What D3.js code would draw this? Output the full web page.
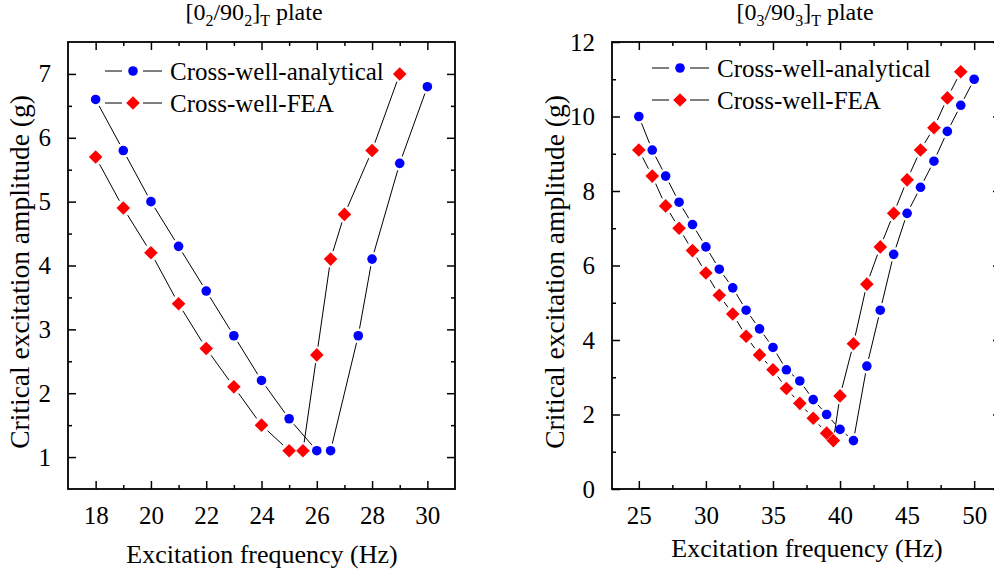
<!DOCTYPE html>
<html>
<head>
<meta charset="utf-8">
<script src="https://cdn.jsdelivr.net/npm/d3@7/dist/d3.min.js"></script>
<style>
  html, body { margin: 0; padding: 0; background: #fff; }
</style>
</head>
<body>
<svg id="chart" width="994" height="573"></svg>
<script>
// [0_2/90_2]_T plate
const freqA1 = [18, 19, 20, 21, 22, 23, 24, 25, 26, 26.5, 27.5, 28, 29, 30];
const ampA1  = [6.6, 5.8, 5.0, 4.3, 3.6, 2.9, 2.2, 1.6, 1.1, 1.1, 2.9, 4.1, 5.6, 6.8];
const freqF1 = [18, 19, 20, 21, 22, 23, 24, 25, 25.5, 26, 26.5, 27, 28, 29];
const ampF1  = [5.7, 4.9, 4.2, 3.4, 2.7, 2.1, 1.5, 1.1, 1.1, 2.6, 4.1, 4.8, 5.8, 7.0];

// [0_3/90_3]_T plate
const freqA2 = [25, 26, 27, 28, 29, 30, 31, 32, 33, 34, 35, 36, 37, 38, 39, 40, 41,
                42, 43, 44, 45, 46, 47, 48, 49, 50];
const ampA2  = [10.0, 9.1, 8.4, 7.7, 7.1, 6.5, 5.9, 5.4, 4.8, 4.3, 3.8, 3.2, 2.9, 2.4, 2.0, 1.6, 1.3,
                3.3, 4.8, 6.3, 7.4, 8.1, 8.8, 9.6, 10.3, 11.0];
const freqF2 = [25, 26, 27, 28, 29, 30, 31, 32, 33, 34, 35, 36, 37, 38, 39, 39.5,
                40, 41, 42, 43, 44, 45, 46, 47, 48, 49];
const ampF2  = [9.1, 8.4, 7.6, 7.0, 6.4, 5.8, 5.2, 4.7, 4.1, 3.6, 3.2, 2.7, 2.3, 1.9, 1.5, 1.3,
                2.5, 3.9, 5.5, 6.5, 7.4, 8.3, 9.1, 9.7, 10.5, 11.2];

// Tick values
const xTicks1 = [18, 20, 22, 24, 26, 28, 30];
const xMinor1 = [19, 21, 23, 25, 27, 29];
const yTicks1 = [1, 2, 3, 4, 5, 6, 7];
const yMinor1 = [1.5, 2.5, 3.5, 4.5, 5.5, 6.5];
const xTicks2 = [25, 30, 35, 40, 45, 50];
const xMinor2 = [27.5, 32.5, 37.5, 42.5, 47.5];
const yTicks2 = [0, 2, 4, 6, 8, 10, 12];
const yMinor2 = [1, 3, 5, 7, 9, 11];

const seriesNames = ["Cross-well-analytical", "Cross-well-FEA"];
const titleSub1 = "2", titleSub2 = "3";

const svg = d3.select("#chart");
const FONT = "'Liberation Serif'";
const BLUE = "#0000ff", RED = "#ff0000";
const FS = 25;
const R_CIRCLE = 4.8, R_DIAMOND = 6.8;

function marker(g, kind, x, y) {
  if (kind === "circle") {
    g.append("circle").attr("cx", x).attr("cy", y).attr("r", R_CIRCLE).attr("fill", BLUE);
  } else {
    const r = R_DIAMOND;
    g.append("path")
      .attr("d", `M${x},${y - r}L${x + r},${y}L${x},${y + r}L${x - r},${y}Z`)
      .attr("fill", RED);
  }
}

// Line through points, with a small gap left around each symbol
function gappedLine(g, pts, gap) {
  for (let i = 0; i < pts.length - 1; i++) {
    const [x0, y0] = pts[i], [x1, y1] = pts[i + 1];
    const dx = x1 - x0, dy = y1 - y0, len = Math.hypot(dx, dy);
    if (len <= 2 * gap) continue;
    const ux = dx / len, uy = dy / len;
    g.append("line")
      .attr("x1", x0 + ux * gap).attr("y1", y0 + uy * gap)
      .attr("x2", x1 - ux * gap).attr("y2", y1 - uy * gap)
      .attr("stroke", "#000").attr("stroke-width", 1);
  }
}

function label(g, size) {
  return g.append("text").style("font-family", FONT).attr("font-size", size).attr("fill", "#000");
}

function drawPanel(cfg) {
  const { left, right, top, bottom } = cfg.box;
  const x = d3.scaleLinear().domain(cfg.xDomain).range([left, right]);
  const y = d3.scaleLinear().domain(cfg.yDomain).range([bottom, top]);
  const g = svg.append("g");

  // Axes on all four sides, ticks pointing inward
  const MAJ = 8, MIN = 4;
  const axB = d3.axisBottom(x).tickValues(cfg.xTicks).tickSize(-MAJ).tickPadding(MAJ + 9).tickFormat(d3.format("d"));
  const axBm = d3.axisBottom(x).tickValues(cfg.xMinor).tickSize(-MIN).tickFormat("");
  const axT = d3.axisTop(x).tickValues(cfg.xTicks).tickSize(-MAJ).tickFormat("");
  const axTm = d3.axisTop(x).tickValues(cfg.xMinor).tickSize(-MIN).tickFormat("");
  const axL = d3.axisLeft(y).tickValues(cfg.yTicks).tickSize(-MAJ).tickPadding(MAJ + 9).tickFormat(d3.format("d"));
  const axLm = d3.axisLeft(y).tickValues(cfg.yMinor).tickSize(-MIN).tickFormat("");
  const axR = d3.axisRight(y).tickValues(cfg.yTicks).tickSize(-MAJ).tickFormat("");
  const axRm = d3.axisRight(y).tickValues(cfg.yMinor).tickSize(-MIN).tickFormat("");

  const axes = [
    [axB, `translate(0,${bottom})`], [axBm, `translate(0,${bottom})`],
    [axT, `translate(0,${top})`], [axTm, `translate(0,${top})`],
    [axL, `translate(${left},0)`], [axLm, `translate(${left},0)`],
    [axR, `translate(${right},0)`], [axRm, `translate(${right},0)`]
  ];
  axes.forEach(([ax, tr]) => {
    const a = g.append("g").attr("transform", tr).call(ax);
    a.attr("font-family", null).style("font-family", FONT).attr("font-size", FS);
    a.select(".domain").remove();
    a.selectAll(".tick line").attr("stroke", "#000").attr("stroke-width", 1.5);
    a.selectAll(".tick text").style("font-family", FONT).attr("font-size", FS).attr("fill", "#000");
  });

  // Frame
  g.append("rect")
    .attr("x", left).attr("y", top)
    .attr("width", right - left).attr("height", bottom - top)
    .attr("fill", "none").attr("stroke", "#000").attr("stroke-width", 1.8);

  // Series
  const ptsA = cfg.fa.map((f, i) => [x(f), y(cfg.aa[i])]);
  const ptsF = cfg.ff.map((f, i) => [x(f), y(cfg.af[i])]);
  gappedLine(g, ptsA, R_CIRCLE + 2.5);
  gappedLine(g, ptsF, R_DIAMOND + 1.5);
  ptsA.forEach(([px, py]) => marker(g, "circle", px, py));
  ptsF.forEach(([px, py]) => marker(g, "diamond", px, py));

  // Legend
  const L = cfg.legend;
  [["circle", seriesNames[0]], ["diamond", seriesNames[1]]].forEach(([kind, name], i) => {
    const ly = L.y + i * L.dy;
    g.append("line").attr("x1", L.x - 28).attr("x2", L.x - 11).attr("y1", ly).attr("y2", ly)
      .attr("stroke", "#000").attr("stroke-width", 1);
    g.append("line").attr("x1", L.x + 10).attr("x2", L.x + 29).attr("y1", ly).attr("y2", ly)
      .attr("stroke", "#000").attr("stroke-width", 1);
    marker(g, kind, L.x, ly);
    label(g, FS).attr("x", L.x + 37).attr("y", ly + 8.5).text(name);
  });

  // Title with subscripts
  const t = label(g, 24).attr("x", cfg.titleX).attr("y", 20).attr("text-anchor", "middle");
  t.append("tspan").text("[0");
  t.append("tspan").attr("font-size", 16).attr("dy", 6).text(cfg.sub);
  t.append("tspan").attr("dy", -6).text("/90");
  t.append("tspan").attr("font-size", 16).attr("dy", 6).text(cfg.sub);
  t.append("tspan").attr("dy", -6).text("]");
  t.append("tspan").attr("font-size", 16).attr("dy", 6).text("T");
  t.append("tspan").attr("dy", -6).text(" plate");

  // Axis titles
  label(g, 26).attr("x", cfg.xLabelX).attr("y", cfg.xLabelY)
    .attr("text-anchor", "middle").text("Excitation frequency (Hz)");
  label(g, 27.5)
    .attr("transform", `translate(${cfg.yLabelX},${cfg.yLabelY}) rotate(-90)`)
    .attr("text-anchor", "middle").text("Critical excitation amplitude (g)");
}

drawPanel({
  box: { left: 68, right: 455, top: 42, bottom: 489 },
  xDomain: [17, 31], yDomain: [0.5, 7.5],
  xTicks: xTicks1, xMinor: xMinor1, yTicks: yTicks1, yMinor: yMinor1,
  fa: freqA1, aa: ampA1, ff: freqF1, af: ampF1,
  legend: { x: 133, y: 71, dy: 32 },
  titleX: 254, sub: titleSub1,
  xLabelX: 262, xLabelY: 563, yLabelX: 29, yLabelY: 272
});

drawPanel({
  box: { left: 612, right: 1001, top: 42, bottom: 489 },
  xDomain: [23, 52], yDomain: [0, 12],
  xTicks: xTicks2, xMinor: xMinor2, yTicks: yTicks2, yMinor: yMinor2,
  fa: freqA2, aa: ampA2, ff: freqF2, af: ampF2,
  legend: { x: 680, y: 68, dy: 32 },
  titleX: 805, sub: titleSub2,
  xLabelX: 807, xLabelY: 557, yLabelX: 564, yLabelY: 272
});
</script>
</body>
</html>
